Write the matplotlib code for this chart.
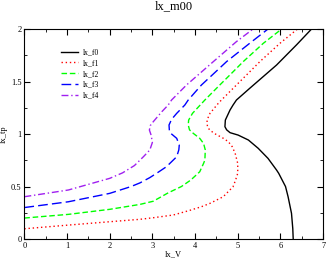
import matplotlib
matplotlib.use("Agg")
import matplotlib.pyplot as plt
from matplotlib.ticker import MultipleLocator, FormatStrFormatter

# curves: (lx_V, lx_tp)
f0_v = [6.30, 6.29, 6.26, 6.18, 6.12, 5.96, 5.91, 5.71, 5.48, 5.25, 5.01, 4.82, 4.74, 4.70, 4.71, 4.82, 4.89, 4.97, 5.28, 5.91, 6.38, 6.73]
f0_tp = [0.0, 0.1, 0.245, 0.403, 0.5, 0.626, 0.657, 0.768, 0.864, 0.943, 0.99, 1.013, 1.04, 1.07, 1.133, 1.229, 1.276, 1.324, 1.435, 1.657, 1.85, 2.0]

f1_v = [0.0, 1.03, 2.0, 2.71, 3.02, 3.49, 3.85, 4.15, 4.35, 4.66, 4.89, 4.95, 5.0, 5.0, 4.94, 4.87, 4.78, 4.66, 4.45, 4.34, 4.29, 4.28, 4.35, 4.56, 4.97, 5.25, 5.52, 5.99, 6.40]
f1_tp = [0.098, 0.133, 0.165, 0.188, 0.203, 0.229, 0.27, 0.308, 0.34, 0.403, 0.498, 0.562, 0.626, 0.72, 0.816, 0.88, 0.927, 0.96, 1.006, 1.04, 1.07, 1.133, 1.197, 1.30, 1.467, 1.58, 1.69, 1.864, 2.0]

f2_v = [0.0, 1.03, 2.0, 2.71, 3.02, 3.37, 3.68, 3.90, 4.11, 4.20, 4.23, 4.24, 4.20, 4.11, 3.96, 3.87, 3.84, 3.85, 3.94, 4.12, 4.23, 4.58, 4.86, 5.13, 5.60, 6.03]
f2_tp = [0.2, 0.235, 0.283, 0.33, 0.36, 0.44, 0.50, 0.562, 0.641, 0.721, 0.752, 0.848, 0.91, 0.959, 1.006, 1.04, 1.086, 1.133, 1.197, 1.276, 1.324, 1.467, 1.58, 1.69, 1.864, 2.0]

f3_v = [0.0, 1.03, 2.0, 2.5, 2.71, 2.94, 3.15, 3.33, 3.57, 3.62, 3.63, 3.57, 3.45, 3.40, 3.39, 3.45, 3.57, 3.76, 3.84, 4.15, 4.45, 4.74, 5.28, 5.71]
f3_tp = [0.30, 0.355, 0.435, 0.50, 0.535, 0.585, 0.64, 0.689, 0.784, 0.85, 0.895, 0.959, 1.0, 1.022, 1.086, 1.14, 1.197, 1.276, 1.324, 1.467, 1.58, 1.69, 1.864, 2.0]

f4_v = [0.0, 1.03, 2.0, 2.3, 2.58, 2.79, 2.94, 3.0, 2.97, 2.93, 2.95, 3.02, 3.22, 3.37, 3.45, 3.80, 4.12, 4.43, 4.97, 5.36]
f4_tp = [0.403, 0.467, 0.578, 0.63, 0.70, 0.784, 0.848, 0.92, 0.99, 1.038, 1.08, 1.117, 1.212, 1.276, 1.324, 1.467, 1.58, 1.69, 1.88, 2.0]

plt.rcParams["font.family"] = "Liberation Serif"

fig = plt.figure(figsize=(3.27, 2.59), dpi=100)
ax = fig.add_axes([0.0745, 0.077, 0.9135, 0.811])

ax.plot(f0_v, f0_tp, color="black", lw=1.0, label="lx_f0")
ax.plot(f1_v, f1_tp, color="#ff0000", lw=1.0, ls=(0, (1, 2)), label="lx_f1")
ax.plot(f2_v, f2_tp, color="#00ff00", lw=1.0, ls=(0, (4, 2)), label="lx_f2")
ax.plot(f3_v, f3_tp, color="#0000ff", lw=1.0, ls=(0, (7, 3)), label="lx_f3")
ax.plot(f4_v, f4_tp, color="#a020f0", lw=1.0, ls=(0, (5, 2, 1, 2)), label="lx_f4")

ax.set_xlim(0, 7)
ax.set_ylim(0, 2)
ax.xaxis.set_major_locator(MultipleLocator(1))
ax.xaxis.set_minor_locator(MultipleLocator(0.5))
ax.yaxis.set_major_locator(MultipleLocator(0.5))
ax.yaxis.set_minor_locator(MultipleLocator(0.25))
ax.xaxis.set_major_formatter(FormatStrFormatter("%g"))
ax.yaxis.set_major_formatter(FormatStrFormatter("%g"))
ax.tick_params(which="both", direction="in", top=True, right=True, labelsize=6, pad=2)
ax.tick_params(which="major", length=4)
ax.tick_params(which="minor", length=2)

ax.set_xlabel("lx_V", fontsize=6, labelpad=0)
ax.set_ylabel("lx_tp", fontsize=6, labelpad=2)
ax.set_title("lx_m00", fontsize=9, pad=14)

ax.legend(loc="upper left", bbox_to_anchor=(0.1, 0.94), frameon=False, fontsize=5.5,
          handlelength=2.2, handletextpad=0.6, labelspacing=0.35)

fig.savefig("out.png", dpi=100)
